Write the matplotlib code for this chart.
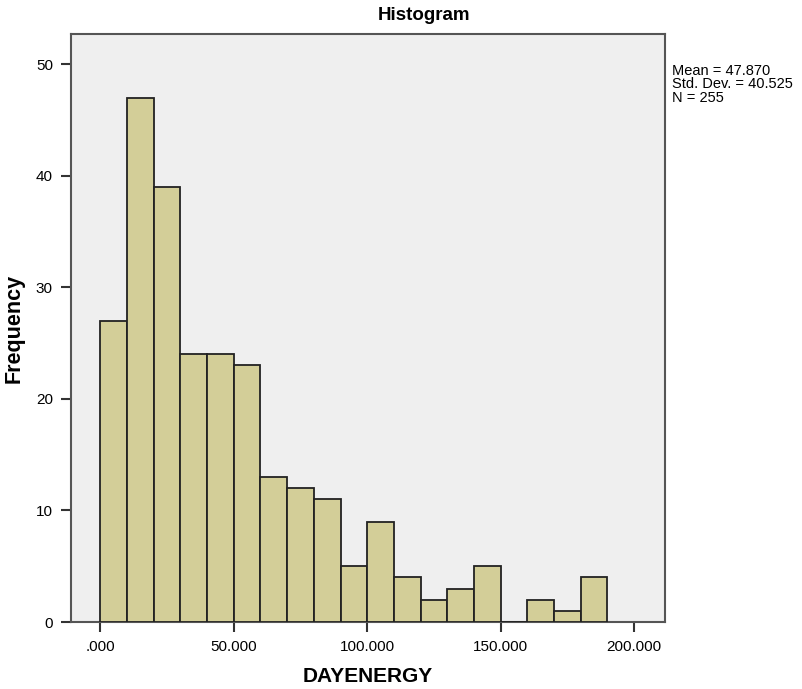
import matplotlib
matplotlib.use("Agg")
import matplotlib.pyplot as plt
import numpy as np

# bin edges (width 10) and counts
bin_left = np.arange(0, 190, 10)
counts = [27, 47, 39, 24, 24, 23, 13, 12, 11, 5, 9, 4, 2, 3, 5, 0, 2, 1, 4]
x_ticks = [0, 50, 100, 150, 200]
x_tick_labels = [".000", "50.000", "100.000", "150.000", "200.000"]
y_ticks = [0, 10, 20, 30, 40, 50]
stats_text = "Mean = 47.870\nStd. Dev. = 40.525\nN = 255"

plt.rcParams["font.family"] = ["Liberation Sans", "DejaVu Sans"]

fig = plt.figure(figsize=(8.02, 6.89), dpi=100)
ax = fig.add_axes([0.0885, 0.0972, 0.7405, 0.8535])
ax.set_facecolor("#EFEFEF")

ax.bar(bin_left, counts, width=10, align="edge", color="#D3CE98",
       edgecolor="#222222", linewidth=1.3, zorder=3)

ax.set_xlim(-11, 211.5)
ax.set_ylim(0, 52.7)
ax.set_xticks(x_ticks)
ax.set_xticklabels(x_tick_labels)
ax.set_yticks(y_ticks)
ax.tick_params(axis="both", direction="out", length=7, width=1.5,
               color="#333333", labelsize=11, pad=6)
ax.tick_params(top=False, right=False)
for s in ax.spines.values():
    s.set_color("#555555")
    s.set_linewidth(1.5)

# SPSS puts the title a bit right of the plot centre
fig.text(424 / 802, 1 - 16 / 689, "Histogram", fontsize=13.5,
         fontweight="bold", ha="center", va="center")
ax.set_xlabel("DAYENERGY", fontsize=15, fontweight="bold", labelpad=9)
ax.set_ylabel("Frequency", fontsize=15.5, fontweight="bold", labelpad=8)

fig.text(672 / 802, 1 - 64 / 689, stats_text, fontsize=10.5, va="top",
         ha="left", linespacing=0.95)

fig.savefig("out.png", dpi=100)
